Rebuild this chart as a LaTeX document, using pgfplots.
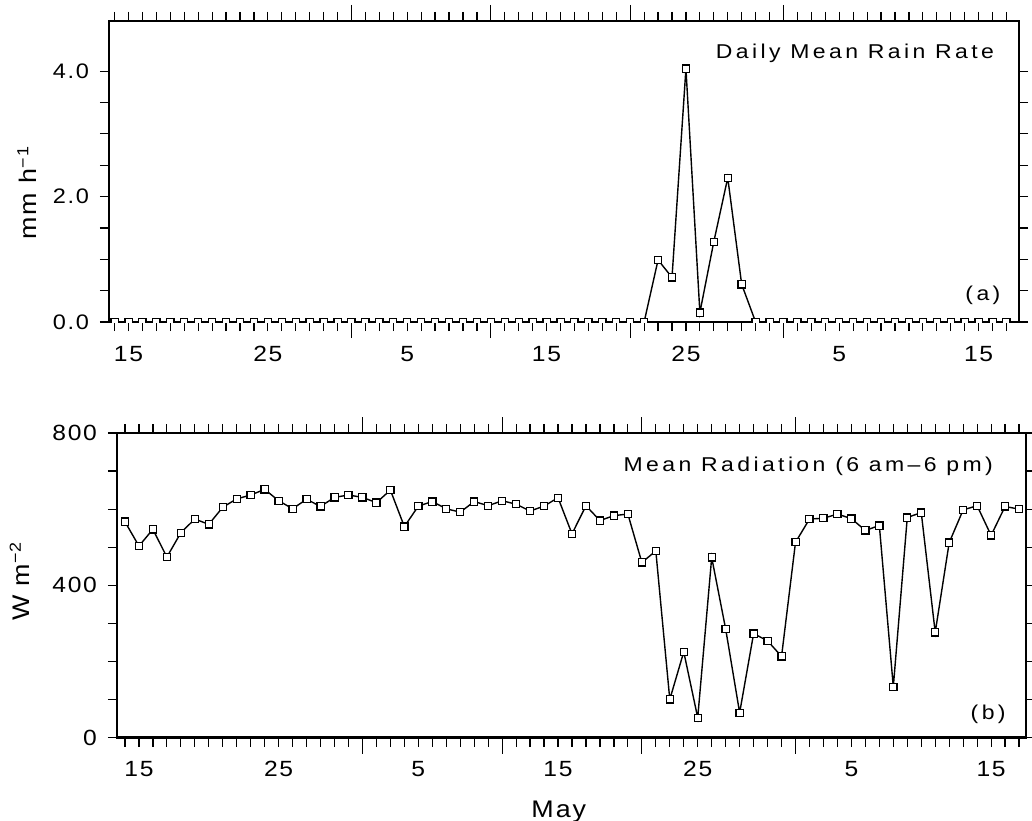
\documentclass[border=0pt]{standalone}
\usepackage{fontspec}
\setmainfont{Liberation Sans}[FakeStretch=1.12, LetterSpace=8]
\newfontfamily\titlefont{Liberation Sans}[FakeStretch=1.15, LetterSpace=17]
\usepackage{pgfplots}
\usepackage{pgfplotstable}
\pgfplotsset{compat=1.18}

% day number counted from 1 April (15 = 15 Apr, 35 = 5 May, 66 = 5 Jun)
\pgfplotstableread{
day rain
14 0
15 0
16 0
17 0
18 0
19 0
20 0
21 0
22 0
23 0
24 0
25 0
26 0
27 0
28 0
29 0
30 0
31 0
32 0
33 0
34 0
35 0
36 0
37 0
38 0
39 0
40 0
41 0
42 0
43 0
44 0
45 0
46 0
47 0
48 0
49 0
50 0
51 0
52 0
53 0.99
54 0.71
55 4.04
56 0.15
57 1.28
58 2.30
59 0.60
60 0
61 0
62 0
63 0
64 0
65 0
66 0
67 0
68 0
69 0
70 0
71 0
72 0
73 0
74 0
75 0
76 0
77 0
78 0
}\raintable

\pgfplotstableread{
day rad
14 567
15 503
16 547
17 474
18 538
19 574
20 560
21 605
22 627
23 637
24 652
25 622
26 601
27 626
28 607
29 631
30 637
31 631
32 617
33 650
34 554
35 608
36 620
37 601
38 592
39 620
40 609
41 622
42 613
43 595
44 608
45 630
46 535
47 609
48 570
49 583
50 587
51 460
52 490
53 100
54 225
55 52
56 473
57 285
58 65
59 273
60 254
61 213
62 513
63 574
64 576
65 587
66 575
67 544
68 557
69 133
70 578
71 591
72 276
73 512
74 598
75 609
76 531
77 607
78 600
}\radtable

\pgfplotsset{
  panel/.style={
    scale only axis,
    anchor=south west,
    axis line style={line width=1.1pt},
    tick align=outside,
    tick style={black, line width=0.6pt},
    major tick length=4.5pt,
    minor tick length=4.5pt,
    xtick={15,25,35,45,55,66,76},
    xticklabels={15,25,5,15,25,5,15},
    minor xtick={14,...,78},
    extra x ticks={31,41,51,62},
    extra x tick labels={},
    extra x tick style={major tick length=8pt},
    xticklabel style={font=\fontsize{11}{13}\selectfont, yshift=-4pt},
    yticklabel style={xshift=-2pt},
    /pgf/number format/assume math mode=true,
    label style={font=\fontsize{12}{14}\selectfont},
    clip marker paths=true,
  },
  series/.style={black, line width=0.7pt, mark=square*, mark size=1.8pt,
    mark options={fill=white, line width=0.6pt}},
}
\tikzset{tag/.style={anchor=east, inner sep=0pt, font=\titlefont\fontsize{10}{12}\selectfont}}

\begin{document}
\begin{tikzpicture}
\useasboundingbox (0pt,0pt) rectangle (516pt,410pt);

\begin{axis}[panel,
  at={(54.5pt,249pt)}, width=455pt, height=150.5pt,
  xmin=13.6, xmax=78.9, ymin=0, ymax=4.8,
  ytick={0,2,4}, minor y tick num=3,
  yticklabel style={font=\fontsize{10.5}{12}\selectfont,
    /pgf/number format/fixed, /pgf/number format/fixed zerofill,
    /pgf/number format/precision=1},
  ylabel={mm h\textsuperscript{−1}},
  ylabel style={at={(axis description cs:-0.09,0.43)}, anchor=center},
]
\addplot[series] table[x=day, y=rain] {\raintable};
\node[tag] at (axis description cs:0.973,0.894) {Daily Mean Rain Rate};
\node[tag] at (axis description cs:0.980,0.09) {(a)};
\end{axis}

\begin{axis}[panel,
  at={(58.5pt,41.25pt)}, width=454.5pt, height=152.25pt,
  xmin=13.43, xmax=78.5, ymin=0, ymax=800,
  ytick={0,400,800}, minor y tick num=3,
  yticklabel style={font=\fontsize{11}{13}\selectfont},
  ylabel={W m\textsuperscript{−2}},
  ylabel style={at={(axis description cs:-0.107,0.514)}, anchor=center},
  xlabel={May},
  xlabel style={at={(axis description cs:0.486,-0.243)}, anchor=center},
]
\addplot[series] table[x=day, y=rad] {\radtable};
\node[tag] at (axis description cs:0.964,0.892) {Mean Radiation (6 am–6 pm)};
\node[tag] at (axis description cs:0.978,0.077) {(b)};
\end{axis}
\end{tikzpicture}
\end{document}
